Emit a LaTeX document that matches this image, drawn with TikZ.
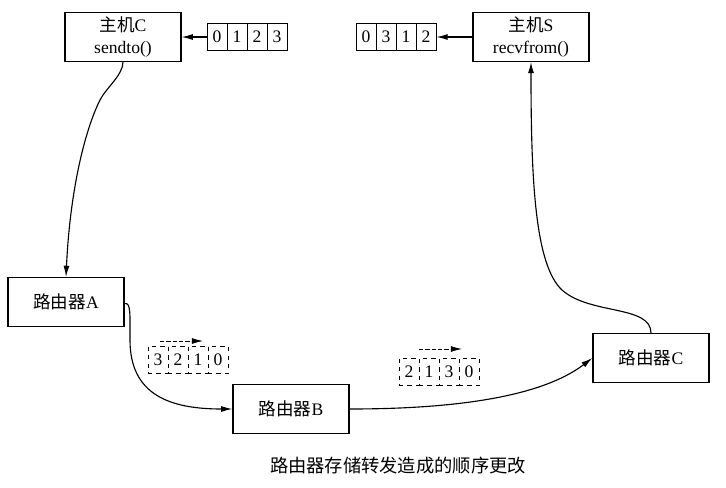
\documentclass[tikz,border=0pt]{standalone}
\usepackage{fontspec}
\setmainfont{Liberation Serif}
\newfontfamily\cjk{Noto Sans CJK SC}
\usetikzlibrary{arrows.meta}
\tikzset{
    hostbox/.style={draw, line width=0.9pt, minimum width=2.9cm, minimum height=1.22cm,
        align=center, inner sep=1pt, font=\fontsize{12.5}{15}\selectfont},
    cell/.style={draw, line width=0.7pt, minimum width=0.5cm, minimum height=0.68cm,
        inner sep=0pt, font=\fontsize{12.5}{14}\selectfont},
    dcell/.style={cell, dashed, line width=0.5pt},
    arr/.style={-{Latex[length=2.8mm,width=1.5mm]}, line width=0.8pt}
}
\begin{document}
\begin{tikzpicture}[x=0.025cm, y=-0.025cm]
    \useasboundingbox (0, 0) rectangle (726, 488);

    % hosts and routers
    \node[hostbox] (hostC) at (123, 37) {{\cjk 主机}C\\sendto()};
    \node[hostbox] (hostS) at (531, 37) {{\cjk 主机}S\\recvfrom()};
    \node[hostbox] (routerA) at (66, 302) {{\cjk 路由器}A};
    \node[hostbox] (routerB) at (291, 409) {{\cjk 路由器}B};
    \node[hostbox] (routerC) at (651, 358) {{\cjk 路由器}C};

    % packets
    \foreach \d [count=\i] in {0,1,2,3}
        \node[cell] (c\i) at (197+20*\i, 37) {\d};
    \foreach \d [count=\i] in {0,3,1,2}
        \node[cell] (s\i) at (346+20*\i, 37) {\d};
    \foreach \d [count=\i] in {3,2,1,0}
        \node[dcell] (a\i) at (138+20*\i, 360) {\d};
    \foreach \d [count=\i] in {2,1,3,0}
        \node[dcell] (b\i) at (389+20*\i, 372) {\d};

    \draw[arr] (c1.west) -- (hostC.east);
    \draw[arr] (hostS.west) -- (s4.east);

    % direction of the packets
    \coordinate (da1) at (160, 341);
    \coordinate (da2) at (203, 341);
    \coordinate (db1) at (419, 349);
    \coordinate (db2) at (462, 349);
    \draw[arr, dash pattern=on 3pt off 1.5pt, line width=0.6pt] (da1) -- (da2);
    \draw[arr, dash pattern=on 3pt off 1.5pt, line width=0.6pt] (db1) -- (db2);

    % path of the packets
    \draw[arr] (hostC.south) .. controls (123, 75) and (106, 88) .. (100, 100)
        .. controls (85, 130) and (70, 190) .. (routerA.north);
    \draw[arr] ([yshift=-0.04cm]routerA.east) .. controls (131, 302) and (130, 315) .. (130, 340)
        .. controls (130, 395) and (170, 409) .. (routerB.west);
    \draw[arr] (routerB.east) .. controls (450, 409) and (540, 398) .. (routerC.west);
    \draw[arr] (routerC.north) .. controls (651, 305) and (590, 315) .. (562, 290)
        .. controls (535, 265) and (531, 180) .. (hostS.south);

    \node[font=\fontsize{13}{15}\selectfont\cjk] (caption) at (398, 466) {路由器存储转发造成的顺序更改};
\end{tikzpicture}
\end{document}
